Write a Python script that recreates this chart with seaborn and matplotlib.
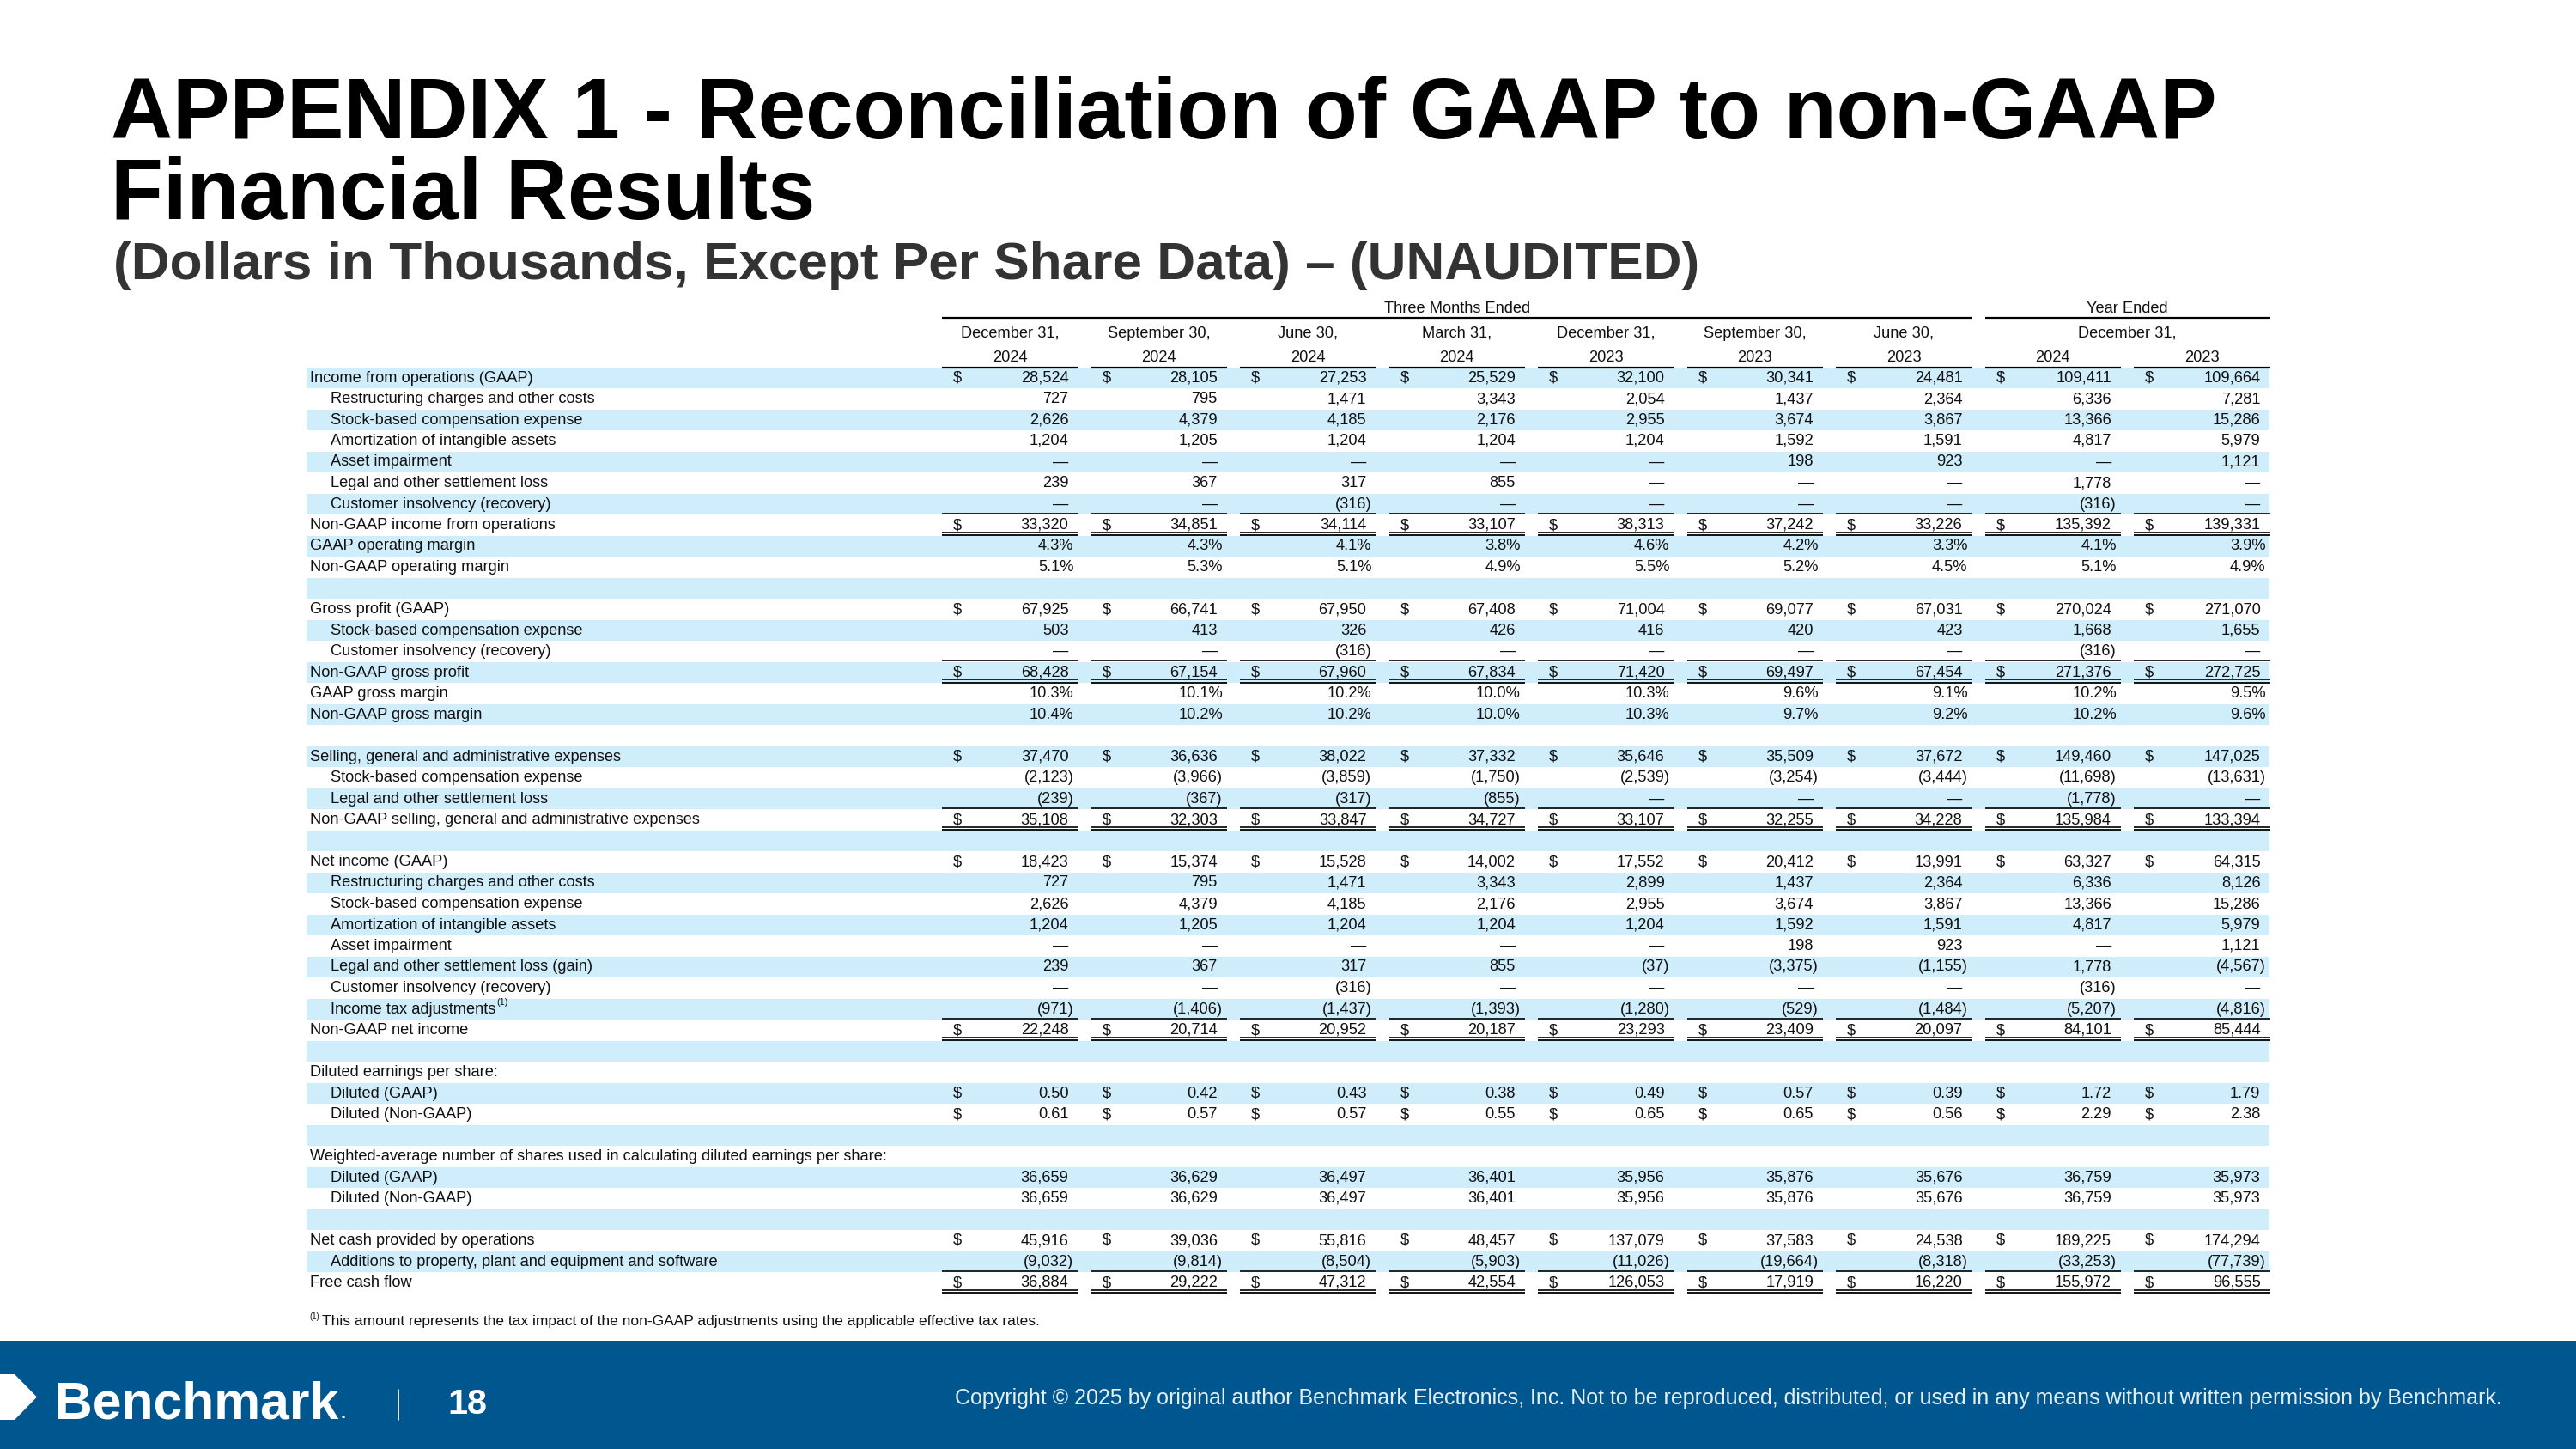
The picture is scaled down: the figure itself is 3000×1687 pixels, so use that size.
import numpy as np
import matplotlib
matplotlib.use("Agg")
import matplotlib.pyplot as plt
import seaborn as sns
from matplotlib.colors import ListedColormap
from matplotlib import font_manager
from matplotlib.patches import Rectangle, Polygon

# ---------------- data ----------------
period_labels = ["December 31,", "September 30,", "June 30,", "March 31,",
                 "December 31,", "September 30,", "June 30,"]
period_years = ["2024", "2024", "2024", "2024", "2023", "2023", "2023"]
annual_label = "December 31,"
annual_years = ["2024", "2023"]

N = None
income_ops_gaap = [28524, 28105, 27253, 25529, 32100, 30341, 24481, 109411, 109664]
ops_restructuring = [727, 795, 1471, 3343, 2054, 1437, 2364, 6336, 7281]
ops_sbc = [2626, 4379, 4185, 2176, 2955, 3674, 3867, 13366, 15286]
ops_amortization = [1204, 1205, 1204, 1204, 1204, 1592, 1591, 4817, 5979]
ops_impairment = [N, N, N, N, N, 198, 923, N, 1121]
ops_legal = [239, 367, 317, 855, N, N, N, 1778, N]
ops_insolvency = [N, N, -316, N, N, N, N, -316, N]
income_ops_nongaap = [33320, 34851, 34114, 33107, 38313, 37242, 33226, 135392, 139331]
op_margin_gaap = [4.3, 4.3, 4.1, 3.8, 4.6, 4.2, 3.3, 4.1, 3.9]
op_margin_nongaap = [5.1, 5.3, 5.1, 4.9, 5.5, 5.2, 4.5, 5.1, 4.9]

gross_profit_gaap = [67925, 66741, 67950, 67408, 71004, 69077, 67031, 270024, 271070]
gp_sbc = [503, 413, 326, 426, 416, 420, 423, 1668, 1655]
gp_insolvency = [N, N, -316, N, N, N, N, -316, N]
gross_profit_nongaap = [68428, 67154, 67960, 67834, 71420, 69497, 67454, 271376, 272725]
gross_margin_gaap = [10.3, 10.1, 10.2, 10.0, 10.3, 9.6, 9.1, 10.2, 9.5]
gross_margin_nongaap = [10.4, 10.2, 10.2, 10.0, 10.3, 9.7, 9.2, 10.2, 9.6]

sga_gaap = [37470, 36636, 38022, 37332, 35646, 35509, 37672, 149460, 147025]
sga_sbc = [-2123, -3966, -3859, -1750, -2539, -3254, -3444, -11698, -13631]
sga_legal = [-239, -367, -317, -855, N, N, N, -1778, N]
sga_nongaap = [35108, 32303, 33847, 34727, 33107, 32255, 34228, 135984, 133394]

net_income_gaap = [18423, 15374, 15528, 14002, 17552, 20412, 13991, 63327, 64315]
ni_restructuring = [727, 795, 1471, 3343, 2899, 1437, 2364, 6336, 8126]
ni_sbc = [2626, 4379, 4185, 2176, 2955, 3674, 3867, 13366, 15286]
ni_amortization = [1204, 1205, 1204, 1204, 1204, 1592, 1591, 4817, 5979]
ni_impairment = [N, N, N, N, N, 198, 923, N, 1121]
ni_legal = [239, 367, 317, 855, -37, -3375, -1155, 1778, -4567]
ni_insolvency = [N, N, -316, N, N, N, N, -316, N]
ni_tax_adj = [-971, -1406, -1437, -1393, -1280, -529, -1484, -5207, -4816]
net_income_nongaap = [22248, 20714, 20952, 20187, 23293, 23409, 20097, 84101, 85444]

eps_gaap = [0.50, 0.42, 0.43, 0.38, 0.49, 0.57, 0.39, 1.72, 1.79]
eps_nongaap = [0.61, 0.57, 0.57, 0.55, 0.65, 0.65, 0.56, 2.29, 2.38]
shares_gaap = [36659, 36629, 36497, 36401, 35956, 35876, 35676, 36759, 35973]
shares_nongaap = [36659, 36629, 36497, 36401, 35956, 35876, 35676, 36759, 35973]

cash_ops = [45916, 39036, 55816, 48457, 137079, 37583, 24538, 189225, 174294]
capex = [-9032, -9814, -8504, -5903, -11026, -19664, -8318, -33253, -77739]
free_cash_flow = [36884, 29222, 47312, 42554, 126053, 17919, 16220, 155972, 96555]

# (label, indent, values, kind, subtotal)
rows = [
    ("Income from operations (GAAP)", 0, income_ops_gaap, "usd", False),
    ("Restructuring charges and other costs", 1, ops_restructuring, "num", False),
    ("Stock-based compensation expense", 1, ops_sbc, "num", False),
    ("Amortization of intangible assets", 1, ops_amortization, "num", False),
    ("Asset impairment", 1, ops_impairment, "num", False),
    ("Legal and other settlement loss", 1, ops_legal, "num", False),
    ("Customer insolvency (recovery)", 1, ops_insolvency, "num", False),
    ("Non-GAAP income from operations", 0, income_ops_nongaap, "usd", True),
    ("GAAP operating margin", 0, op_margin_gaap, "pct", False),
    ("Non-GAAP operating margin", 0, op_margin_nongaap, "pct", False),
    ("", 0, None, "blank", False),
    ("Gross profit (GAAP)", 0, gross_profit_gaap, "usd", False),
    ("Stock-based compensation expense", 1, gp_sbc, "num", False),
    ("Customer insolvency (recovery)", 1, gp_insolvency, "num", False),
    ("Non-GAAP gross profit", 0, gross_profit_nongaap, "usd", True),
    ("GAAP gross margin", 0, gross_margin_gaap, "pct", False),
    ("Non-GAAP gross margin", 0, gross_margin_nongaap, "pct", False),
    ("", 0, None, "blank", False),
    ("Selling, general and administrative expenses", 0, sga_gaap, "usd", False),
    ("Stock-based compensation expense", 1, sga_sbc, "num", False),
    ("Legal and other settlement loss", 1, sga_legal, "num", False),
    ("Non-GAAP selling, general and administrative expenses", 0, sga_nongaap, "usd", True),
    ("", 0, None, "blank", False),
    ("Net income (GAAP)", 0, net_income_gaap, "usd", False),
    ("Restructuring charges and other costs", 1, ni_restructuring, "num", False),
    ("Stock-based compensation expense", 1, ni_sbc, "num", False),
    ("Amortization of intangible assets", 1, ni_amortization, "num", False),
    ("Asset impairment", 1, ni_impairment, "num", False),
    ("Legal and other settlement loss (gain)", 1, ni_legal, "num", False),
    ("Customer insolvency (recovery)", 1, ni_insolvency, "num", False),
    ("Income tax adjustments", 1, ni_tax_adj, "num", False),
    ("Non-GAAP net income", 0, net_income_nongaap, "usd", True),
    ("", 0, None, "blank", False),
    ("Diluted earnings per share:", 0, None, "head", False),
    ("Diluted (GAAP)", 1, eps_gaap, "eps", False),
    ("Diluted (Non-GAAP)", 1, eps_nongaap, "eps", False),
    ("", 0, None, "blank", False),
    ("Weighted-average number of shares used in calculating diluted earnings per share:", 0, None, "head", False),
    ("Diluted (GAAP)", 1, shares_gaap, "num", False),
    ("Diluted (Non-GAAP)", 1, shares_nongaap, "num", False),
    ("", 0, None, "blank", False),
    ("Net cash provided by operations", 0, cash_ops, "usd", False),
    ("Additions to property, plant and equipment and software", 1, capex, "num", False),
    ("Free cash flow", 0, free_cash_flow, "usd", True),
]

# ---------------- layout ----------------
W, H = 3000, 1687
DPI = 100
ROW0, PITCH = 440.0, 24.5
BAND_L, BAND_R = 357, 2643
COL0, CPITCH, CW = 1097.0, 173.5, 158.5
LIGHT_BLUE = "#CFEDFA"
FOOT_BLUE = "#00568E"

sns.set_theme(style="white")
names = {f.name for f in font_manager.fontManager.ttflist}
NARROW = "Liberation Sans Narrow" in names
BODY = ["Liberation Sans Narrow", "Liberation Sans", "DejaVu Sans"] if NARROW \
    else ["Liberation Sans", "DejaVu Sans"]
HEAD = ["Liberation Sans", "DejaVu Sans"]
plt.rcParams["font.family"] = BODY

fig = plt.figure(figsize=(W / DPI, H / DPI), dpi=DPI)
fig.patch.set_facecolor("white")
renderer = fig.canvas.get_renderer()


def fit_size(s, target, fam, weight="normal", base=20.0):
    t = fig.text(0, 0, s, fontsize=base, family=fam, weight=weight)
    w = t.get_window_extent(renderer).width
    t.remove()
    return base * target / w


nrows = len(rows)
band_top = ROW0 - PITCH / 2
band_bot = ROW0 + (nrows - 1) * PITCH + PITCH / 2

# stripes through seaborn heatmap
ax_h = fig.add_axes([BAND_L / W, 1 - band_bot / H, (BAND_R - BAND_L) / W, (band_bot - band_top) / H])
stripes = np.array([[i % 2] for i in range(nrows)])
sns.heatmap(stripes, cmap=ListedColormap([LIGHT_BLUE, "white"]), vmin=0, vmax=1, cbar=False,
            xticklabels=False, yticklabels=False, ax=ax_h, linewidths=0)
ax_h.set_axis_off()

ax = fig.add_axes([0, 0, 1, 1])
ax.set_xlim(0, W)
ax.set_ylim(H, 0)
ax.set_axis_off()
ax.patch.set_alpha(0)

body_fs = fit_size("Income from operations (GAAP)", 243, BODY) * (1.0 if NARROW else 1.07)
small_fs = body_fs * 0.6


def row_y(i):
    return ROW0 + i * PITCH


def col_start(c):
    return COL0 + c * CPITCH


def fmt(v, kind):
    if v is None:
        return "\u2014"
    if kind == "pct":
        return f"{v:.1f}%"
    if kind == "eps":
        return f"{v:.2f}"
    if v < 0:
        return f"({-v:,.0f})"
    return f"{v:,.0f}"


# titles
t1 = "APPENDIX 1 - Reconciliation of GAAP to non-GAAP"
tfs = fit_size(t1, 2454, HEAD, "bold", 60)
ax.text(129, 161, t1, fontsize=tfs, family=HEAD, weight="bold", color="black", va="baseline", ha="left")
ax.text(129, 255, "Financial Results", fontsize=tfs, family=HEAD, weight="bold", color="black",
        va="baseline", ha="left")
sub = "(Dollars in Thousands, Except Per Share Data) \u2013 (UNAUDITED)"
sfs = fit_size(sub, 1846, HEAD, "bold", 30)
ax.text(132, 325, sub, fontsize=sfs, family=HEAD, weight="bold", color="#333333", va="baseline", ha="left")

# header
three_l, three_r = col_start(0), col_start(6) + CW
year_l, year_r = col_start(7), col_start(8) + CW
ax.text((three_l + three_r) / 2, 359, "Three Months Ended", fontsize=body_fs, ha="center", va="center", color="#111")
ax.text((year_l + year_r) / 2, 359, "Year Ended", fontsize=body_fs, ha="center", va="center", color="#111")
ax.plot([three_l, three_r], [370, 370], color="black", lw=1.6, solid_capstyle="butt")
ax.plot([year_l, year_r], [370, 370], color="black", lw=1.6, solid_capstyle="butt")
for c in range(7):
    cx = col_start(c) + CW / 2
    ax.text(cx, 388, period_labels[c], fontsize=body_fs, ha="center", va="center", color="#111")
    ax.text(cx, 416, period_years[c], fontsize=body_fs, ha="center", va="center", color="#111")
ax.text((year_l + year_r) / 2, 388, annual_label, fontsize=body_fs, ha="center", va="center", color="#111")
for k in range(2):
    c = 7 + k
    ax.text(col_start(c) + CW / 2, 416, annual_years[k], fontsize=body_fs, ha="center", va="center", color="#111")
for c in range(9):
    ax.plot([col_start(c), col_start(c) + CW], [427.5, 427.5], color="black", lw=1.6, solid_capstyle="butt")

# rows
for i, (label, indent, vals, kind, subtotal) in enumerate(rows):
    y = row_y(i)
    if label:
        lx = 361 if indent == 0 else 385
        tl = ax.text(lx, y, label, fontsize=body_fs, ha="left", va="center", color="#111")
        if label == "Income tax adjustments":
            bb = tl.get_window_extent(renderer)
            ax.text(bb.x1 + 1, y - 8, "(1)", fontsize=small_fs, ha="left", va="center", color="#111")
    if vals is None:
        continue
    for c, v in enumerate(vals):
        x0 = col_start(c)
        s = fmt(v, kind)
        xr = x0 + CW - 11
        if s.endswith(")") or s.endswith("%"):
            xr += 6
        ax.text(xr, y, s, fontsize=body_fs, ha="right", va="center", color="#111")
        if kind in ("usd", "eps"):
            ax.text(x0 + 13, y, "$", fontsize=body_fs, ha="left", va="center", color="#111")
    if subtotal:
        for c in range(9):
            x0 = col_start(c)
            ytop = y - PITCH / 2 - 1.5
            ax.plot([x0, x0 + CW], [ytop, ytop], color="black", lw=1.2, solid_capstyle="butt")
            yb = y + PITCH / 2
            ax.plot([x0, x0 + CW], [yb - 4.2, yb - 4.2], color="black", lw=1.2, solid_capstyle="butt")
            ax.plot([x0, x0 + CW], [yb - 0.6, yb - 0.6], color="black", lw=1.3, solid_capstyle="butt")

# footnote
fn = "This amount represents the tax impact of the non-GAAP adjustments using the applicable effective tax rates."
ffs = fit_size(fn, 836, BODY, "normal", 12)
ax.text(360, 1533, "(1)", fontsize=ffs * 0.55, ha="left", va="center", color="#111")
ax.text(375, 1538, fn, fontsize=ffs, ha="left", va="center", color="#111")

# footer
ax.add_patch(Rectangle((0, 1561), W, H - 1561, facecolor=FOOT_BLUE, edgecolor="none"))
ax.add_patch(Polygon([(0, 1600), (17, 1600), (43, 1626.5), (17, 1653), (0, 1653)], closed=True,
                     facecolor="white", edgecolor="none"))
lfs = fit_size("Benchmark", 330, HEAD, "bold", 40)
ax.text(64, 1651, "Benchmark", fontsize=lfs, family=HEAD, weight="bold", color="white", ha="left", va="baseline")
ax.text(397, 1651, ".", fontsize=lfs * 0.35, family=HEAD, weight="bold", color="white", ha="left", va="baseline")
ax.plot([464, 464], [1618, 1653], color="white", lw=1.2)
nfs = fit_size("18", 46, BODY, "bold", 30)
ax.text(521, 1646, "18", fontsize=nfs, weight="bold", color="white", ha="left", va="baseline")
cp = ("Copyright \u00a9 2025 by original author Benchmark Electronics, Inc. Not to be reproduced, "
      "distributed, or used in any means without written permission by Benchmark.")
cfs = fit_size(cp, 1800, BODY, "normal", 18)
ax.text(2914, 1628, cp, fontsize=cfs, color="#E4EEF6", ha="right", va="center")

fig.savefig("out.png", dpi=DPI, facecolor="white")
